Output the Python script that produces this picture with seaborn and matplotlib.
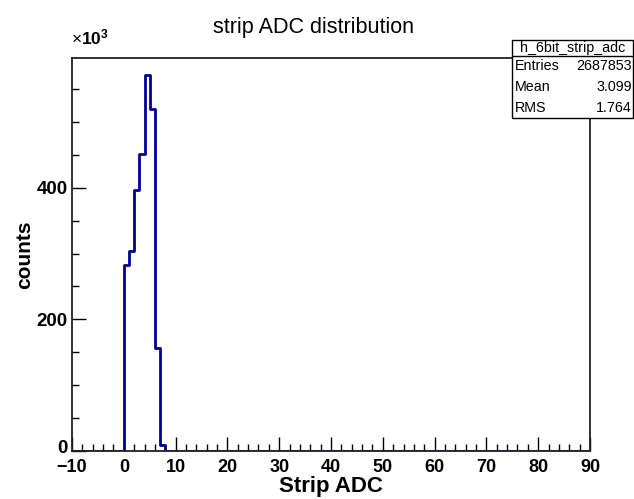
import numpy as np
import pandas as pd
import seaborn as sns
from matplotlib import pyplot as plt
from matplotlib.patches import Rectangle
from matplotlib.transforms import ScaledTranslation
from matplotlib.ticker import MultipleLocator, FuncFormatter

# histogram content (bin width 1, range -10..90)
adc_values = [0, 1, 2, 3, 4, 5, 6, 7]
adc_counts = [283000, 303500, 396500, 450500, 570500, 519000, 156000, 8800]
hist_range = (-10, 90)

hist_name = "h_6bit_strip_adc"
stat_names = ["Entries", "Mean", "RMS"]
stat_values = ["2687853", "3.099", "1.764"]

sns.set_style("ticks")
plt.rcParams['font.family'] = ['Liberation Sans', 'DejaVu Sans']
plt.rcParams['mathtext.fontset'] = 'custom'
plt.rcParams['mathtext.rm'] = 'Liberation Sans'
plt.rcParams['mathtext.bf'] = 'Liberation Sans:bold'
plt.rcParams['text.color'] = 'black'
plt.rcParams['axes.labelcolor'] = 'black'
plt.rcParams['xtick.color'] = 'black'
plt.rcParams['ytick.color'] = 'black'

df = pd.DataFrame({"adc": adc_values, "counts": adc_counts})

fig = plt.figure(figsize=(6.34, 4.99), dpi=100)
ax = fig.add_axes([0.1136, 0.0962, 0.8170, 0.7876])

sns.histplot(data=df, x="adc", weights="counts", binwidth=1, binrange=hist_range,
             element="step", fill=False, color="#000099", linewidth=2, ax=ax)

ax.set_xlim(-10, 90)
ax.set_ylim(0, 597000)

ax.xaxis.set_major_locator(MultipleLocator(10))
ax.xaxis.set_minor_locator(MultipleLocator(2))
ax.yaxis.set_major_locator(MultipleLocator(200000))
ax.yaxis.set_minor_locator(MultipleLocator(50000))
ax.yaxis.set_major_formatter(FuncFormatter(lambda v, p: "%d" % round(v / 1000)))
ax.xaxis.set_major_formatter(FuncFormatter(lambda v, p: ("\u2212%d" % -v) if v < 0 else "%d" % v))

ax.tick_params(axis="both", which="major", direction="in", length=10, width=1)
ax.tick_params(axis="x", which="major", pad=6, labelsize=13)
ax.tick_params(axis="y", which="major", pad=3, labelsize=13.5)
ax.tick_params(axis="both", which="minor", direction="in", length=5, width=1)
for lab in ax.get_xticklabels() + ax.get_yticklabels():
    lab.set_fontweight("bold")

for s in ax.spines.values():
    s.set_color("#222222")
    s.set_linewidth(1.3)

ax.set_xlabel("Strip ADC", fontsize=16, fontweight="bold", labelpad=0)
ax.set_ylabel("counts", fontsize=15, fontweight="bold", labelpad=2)

fig.text(0.495, 0.944, "strip ADC distribution", ha="center", va="center", fontsize=15.5)
fig.text(0.112, 0.905, r"$\times\mathbf{10^{3}}$", ha="left", va="bottom", fontsize=12.5)

# stats box
x0, x1 = 512 / 634, 633 / 634
y_top, y_bot = 1 - 40 / 499, 1 - 118 / 499
fig.patches.append(Rectangle((x0, y_bot), x1 - x0, y_top - y_bot, transform=fig.transFigure,
                             facecolor="white", edgecolor="black", linewidth=1, zorder=5))
y_sep = 1 - 56 / 499
fig.add_artist(plt.Line2D([x0, x1], [y_sep, y_sep], transform=fig.transFigure, color="black", lw=1, zorder=6))
fig.text((x0 + x1) / 2, (y_top + y_sep) / 2, hist_name, ha="center", va="center", fontsize=10.3, zorder=7)
row_h = (y_sep - y_bot) / 3
for i, (n, v) in enumerate(zip(stat_names, stat_values)):
    yc = y_sep - row_h * (i + 0.5)
    fig.text(x0 + 0.004, yc, n, ha="left", va="center", fontsize=10.3, zorder=7)
    fig.text(x1 - 0.002, yc, v, ha="right", va="center", fontsize=10.3, zorder=7)

# nudge the y "0" label up a little so it clears the "-10" below it
fig.canvas.draw()
for t in ax.yaxis.get_major_ticks():
    if t.label1.get_text() == "0":
        t.label1.set_transform(t.label1.get_transform() + ScaledTranslation(0, 3 / 72, fig.dpi_scale_trans))

plt.savefig("out.png", dpi=100)
